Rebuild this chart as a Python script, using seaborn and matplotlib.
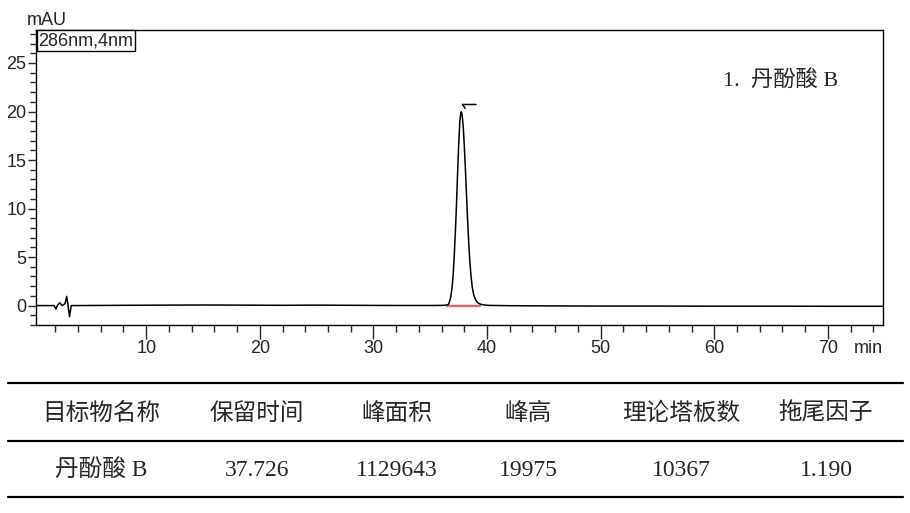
import matplotlib
matplotlib.use("Agg")
import matplotlib.pyplot as plt
from matplotlib.ticker import MultipleLocator
import pandas as pd
import seaborn as sns

# chromatogram trace (min, mAU)
trace_time = [0.3, 1.5, 1.9, 2.05, 2.2, 2.4, 2.6, 2.85, 3.0, 3.1, 3.25, 3.4, 3.7, 5, 8, 10, 12, 15, 18, 20,
              22, 25, 28, 30, 33, 35, 36.0, 36.3, 36.5, 36.6, 36.7, 36.8, 36.9, 37.0, 37.1, 37.2, 37.3,
              37.4, 37.5, 37.6, 37.65, 37.726, 37.8, 37.9, 38.0, 38.1, 38.2, 38.3, 38.4, 38.5, 38.6,
              38.7, 38.8, 38.9, 39.0, 39.1, 39.2, 39.4, 39.7, 40.2, 42, 45, 50, 55, 60, 65, 70, 74.85]
trace_mau = [0.0, 0.0, 0.0, -0.35, 0.05, 0.3, 0.0, 0.2, 0.95, 0.2, -1.15, 0.0, 0.0, 0.01, 0.03, 0.04, 0.05, 0.06, 0.05, 0.04,
             0.03, 0.05, 0.03, 0.02, 0.01, 0.01, 0.02, 0.04, 0.07, 0.13, 0.42, 0.85, 1.66, 2.9, 4.8, 7.3, 10.1,
             13.4, 16.5, 18.85, 19.5, 19.975, 19.7, 18.5, 16.4, 13.9, 11.2, 8.5, 6.2, 4.3, 2.9,
             1.9, 1.25, 0.85, 0.6, 0.4, 0.28, 0.15, 0.07, 0.02, -0.01, -0.03, -0.05, -0.05, -0.06, -0.06, -0.07, -0.07]

# integration baseline
base_time = [36.45, 39.4]
base_mau = [0.0, 0.0]

# peak result table
col_names = ["目标物名称", "保留时间", "峰面积", "峰高", "理论塔板数", "拖尾因子"]
row_values = ["丹酚酸 B", "37.726", "1129643", "19975", "10367", "1.190"]
peak_rt = 37.726
peak_height = 19.975

df = pd.DataFrame({"time": trace_time, "mAU": trace_mau})

sns.set_style("ticks")
plt.rcParams["font.family"] = ["Liberation Sans", "Noto Sans CJK SC", "DejaVu Sans"]

fig = plt.figure(figsize=(9.1, 5.13), dpi=100)
ax = fig.add_axes([36 / 910, 188 / 513, 847 / 910, 295 / 513])

ax.plot(base_time, base_mau, color="#ff5a5a", lw=1.6, zorder=2)
sns.lineplot(data=df, x="time", y="mAU", color="black", lw=1.1, ax=ax, zorder=3)

# peak marker
ax.plot([peak_rt + 0.35, peak_rt + 0.1, peak_rt + 1.3],
        [peak_height + 0.35, peak_height + 0.75, peak_height + 0.75], color="black", lw=1.1)

ax.set_xlim(0.3, 74.85)
ax.set_ylim(-2, 28.4)
ax.xaxis.set_major_locator(MultipleLocator(10))
ax.xaxis.set_minor_locator(MultipleLocator(2))
ax.yaxis.set_major_locator(MultipleLocator(5))
ax.yaxis.set_minor_locator(MultipleLocator(1))
ax.set_xticks([10, 20, 30, 40, 50, 60, 70])
ax.tick_params(axis="x", which="major", length=10, width=1, labelsize=13, pad=1)
ax.tick_params(axis="x", which="minor", length=5, width=1)
ax.tick_params(axis="y", which="major", length=6, width=1, labelsize=13, pad=1)
ax.tick_params(axis="y", which="minor", length=4, width=1)
for s in ax.spines.values():
    s.set_visible(True)
    s.set_linewidth(1)
    s.set_color("black")
ax.set_xlabel("")
ax.set_ylabel("")

ax.text(-0.011, 1.004, "mAU", transform=ax.transAxes, fontsize=13, ha="left", va="bottom")
ax.text(0.966, -0.05, "min", transform=ax.transAxes, fontsize=13, ha="left", va="top")
ax.text(0.003, 0.993, "286nm,4nm", transform=ax.transAxes, fontsize=13, ha="left", va="top",
        bbox=dict(boxstyle="square,pad=0.1", fc="white", ec="black", lw=1))
ax.text(0.811, 0.83, "1.  丹酚酸 B", transform=ax.transAxes, fontsize=16, ha="left", va="center",
        family=["Liberation Serif", "Noto Sans CJK SC"])

# table below the chart, in pixel coordinates
tab = fig.add_axes([0, 0, 1, 143 / 513])
tab.set_xlim(0, 910)
tab.set_ylim(513, 370)
tab.axis("off")
col_x = [101, 257, 397, 528, 681, 826]
for y in [383, 440.7, 497]:
    tab.plot([8, 903], [y, y], color="black", lw=1.6)
for x, name, val in zip(col_x, col_names, row_values):
    tab.text(x, 413, name, fontsize=17, ha="center", va="center", fontweight=500,
             family=["Noto Sans CJK SC"])
    tab.text(x, 470, val, fontsize=17, ha="center", va="center",
             family=["Liberation Serif", "Noto Sans CJK SC"])

fig.savefig("out.png", dpi=100)
